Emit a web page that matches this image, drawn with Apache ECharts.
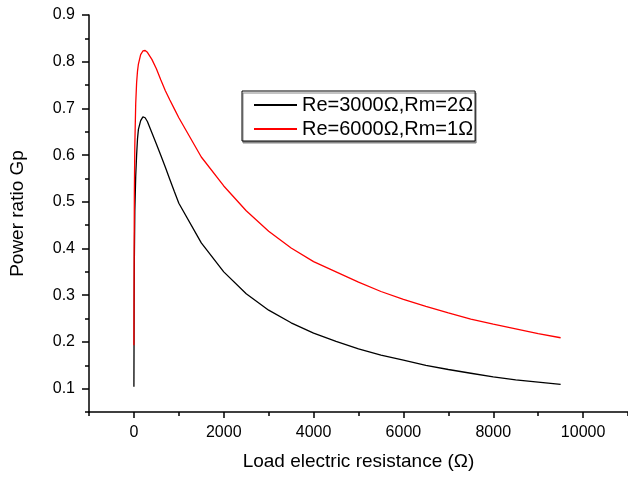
<!DOCTYPE html>
<html>
<head>
<meta charset="utf-8">
<script src="https://cdn.jsdelivr.net/npm/echarts@6/dist/echarts.min.js"></script>
<style>
  html, body { margin: 0; padding: 0; background: #fff; }
  #chart { width: 628px; height: 478px; }
</style>
</head>
<body>
<div id="chart"></div>
<script>
// load resistance (ohm), shared by both curves
var loadR = [0, 5, 10, 20, 40, 60, 80, 100, 150, 200, 250, 300, 400, 500, 600, 700, 800, 900,
  1000, 1500, 2000, 2500, 3000, 3500, 4000, 4500, 5000, 5500, 6000, 6500,
  7000, 7500, 8000, 8500, 9000, 9500];
var gpRe3000 = [0.104, 0.28, 0.38, 0.48, 0.555, 0.60, 0.635, 0.655, 0.674, 0.682, 0.680, 0.672, 0.648, 0.624, 0.599, 0.574, 0.548, 0.522,
  0.497, 0.412, 0.350, 0.303, 0.268, 0.241, 0.219, 0.201, 0.185, 0.172, 0.161, 0.150,
  0.141, 0.133, 0.125, 0.119, 0.114, 0.109];
var gpRe6000 = [0.193, 0.40, 0.52, 0.62, 0.71, 0.755, 0.78, 0.795, 0.815, 0.823, 0.824, 0.820, 0.805, 0.785, 0.761, 0.738, 0.718, 0.699,
  0.680, 0.596, 0.534, 0.481, 0.437, 0.401, 0.372, 0.350, 0.328, 0.308, 0.291, 0.276,
  0.262, 0.249, 0.238, 0.228, 0.218, 0.209];
var seriesNames = ['Re=3000\u03a9,Rm=2\u03a9', 'Re=6000\u03a9,Rm=1\u03a9'];
var xLabelValues = [0, 2000, 4000, 6000, 8000, 10000];
var yLabelValues = [0.1, 0.2, 0.3, 0.4, 0.5, 0.6, 0.7, 0.8, 0.9];

function pairs(xs, ys) {
  var out = [];
  for (var i = 0; i < xs.length; i++) out.push([xs[i], ys[i]]);
  return out;
}

var font = "'Liberation Sans', Arial, sans-serif";
var chart = echarts.init(document.getElementById('chart'));
var option = {
  animation: false,
  textStyle: { fontFamily: font, color: '#000' },
  grid: { left: 89, top: 15, width: 540, bottom: 66 },
  legend: {
    data: seriesNames,
    orient: 'vertical',
    left: 242,
    top: 91,
    padding: [3, 2, 1, 11],
    itemGap: 2,
    itemWidth: 43,
    itemHeight: 14,
    itemStyle: { opacity: 0 },
    textStyle: { fontFamily: font, fontSize: 20, lineHeight: 22, color: '#000' },
    backgroundColor: '#fff',
    borderColor: '#000',
    borderWidth: 1,
    shadowColor: '#888',
    shadowOffsetX: 1,
    shadowOffsetY: 2
  },
  xAxis: [{
    type: 'value',
    min: -1000,
    max: 11000,
    interval: 1000,
    name: 'Load electric resistance (\u03a9)',
    nameLocation: 'middle',
    nameGap: 40,
    nameTextStyle: { fontFamily: font, fontSize: 19, color: '#000' },
    axisLine: { show: true, onZero: false, lineStyle: { color: '#000', width: 1.5 } },
    axisTick: { show: true, length: 4, lineStyle: { color: '#000', width: 1.5 } },
    axisLabel: {
      customValues: xLabelValues,
      formatter: function (v) { return String(v); },
      margin: 13,
      fontSize: 16,
      color: '#000',
      fontFamily: font
    },
    splitLine: { show: false }
  }, {
    type: 'value',
    position: 'bottom',
    min: -1000,
    max: 11000,
    interval: 1000,
    axisLine: { show: false, onZero: false },
    axisTick: { show: true, customValues: xLabelValues, length: 6, lineStyle: { color: '#000', width: 1.5 } },
    axisLabel: { show: false },
    splitLine: { show: false }
  }],
  yAxis: [{
    type: 'value',
    min: 0.05,
    max: 0.9,
    interval: 0.05,
    name: 'Power ratio Gp',
    nameLocation: 'middle',
    nameGap: 62,
    nameTextStyle: { fontFamily: font, fontSize: 19, color: '#000' },
    axisLine: { show: true, onZero: false, lineStyle: { color: '#000', width: 1.5 } },
    axisTick: { show: true, length: 4, lineStyle: { color: '#000', width: 1.5 } },
    axisLabel: {
      customValues: yLabelValues,
      formatter: function (v) { return v.toFixed(1); },
      margin: 14,
      fontSize: 16,
      color: '#000',
      fontFamily: font
    },
    splitLine: { show: false }
  }, {
    type: 'value',
    position: 'left',
    min: 0.05,
    max: 0.9,
    interval: 0.05,
    axisLine: { show: false, onZero: false },
    axisTick: { show: true, customValues: yLabelValues, length: 7, lineStyle: { color: '#000', width: 1.5 } },
    axisLabel: { show: false },
    splitLine: { show: false }
  }],
  series: [
    {
      name: seriesNames[0],
      type: 'line',
      symbol: 'none',
      color: '#000',
      lineStyle: { color: '#000', width: 1.3 },
      data: pairs(loadR, gpRe3000)
    },
    {
      name: seriesNames[1],
      type: 'line',
      symbol: 'none',
      color: '#ff0000',
      lineStyle: { color: '#ff0000', width: 1.3 },
      data: pairs(loadR, gpRe6000)
    }
  ]
};
chart.setOption(option);
</script>
</body>
</html>
